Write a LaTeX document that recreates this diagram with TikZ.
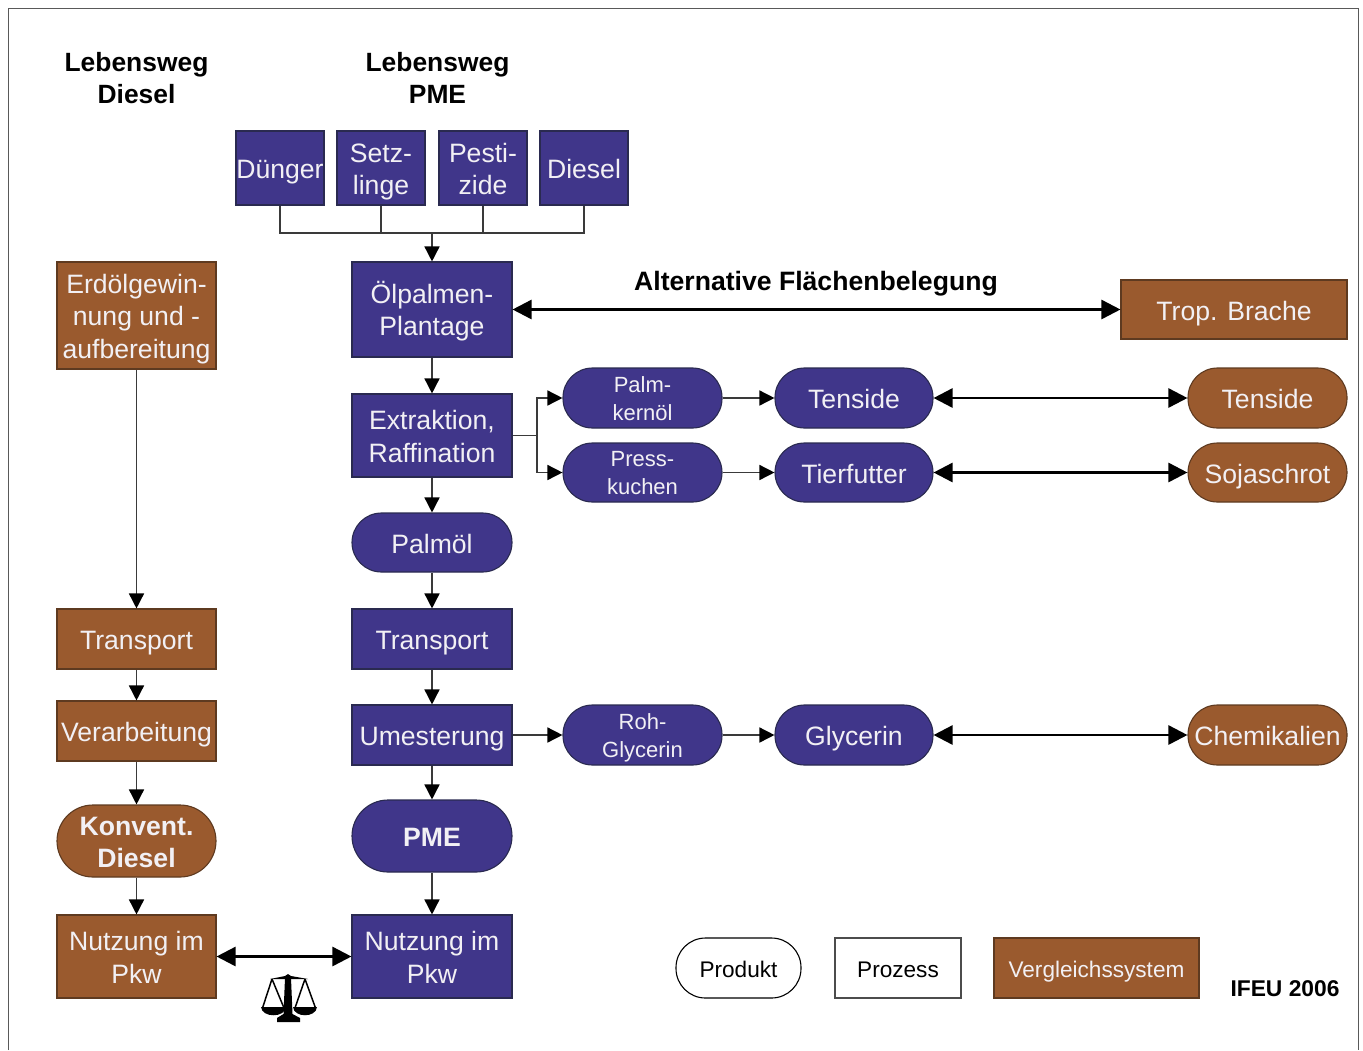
\documentclass[tikz,border=0pt]{standalone}
\usepackage{fontspec}
\setmainfont{Liberation Sans}
\usetikzlibrary{arrows.meta}
\definecolor{pblue}{HTML}{40368A}
\definecolor{pbrown}{HTML}{9A5A2E}
\definecolor{pedge}{HTML}{2A2A50}
\definecolor{bedge}{HTML}{5E3A20}
\definecolor{ptext}{HTML}{F2F0F4}
\definecolor{wire}{HTML}{3A3A3A}
\tikzset{
  x=1pt,y=-1pt,
  base/.style={inner sep=0pt,align=center,font=\fontsize{26.6}{32.5}\selectfont,text=ptext,line width=1.1pt,
    execute at begin node={\rule{0pt}{1.07em}},execute at end node={\rule[-.25em]{0pt}{.25em}}},
  multi/.style={execute at begin node={\rule{0pt}{60pt}}},
  multithree/.style={execute at begin node={\rule{0pt}{92.5pt}}},
  oilshift/.style={execute at begin node={\rule{0pt}{59pt}}},
  smalltext/.style={font=\fontsize{22}{28}\selectfont,execute at begin node={\rule{0pt}{50pt}}},
  proc/.style={base,rectangle,fill=pblue,draw=pedge},
  cmp/.style={base,rectangle,fill=pbrown,draw=bedge},
  prod/.style={base,rectangle,rounded corners=29.5pt,fill=pblue,draw=pedge},
  prodc/.style={base,rectangle,rounded corners=29.5pt,fill=pbrown,draw=bedge},
  arr/.style={line width=1.5pt,draw=wire,-{Triangle[length=15pt,width=15pt,color=black]}},
  wireline/.style={line width=1.5pt,draw=wire},
  dbl/.style={line width=2.6pt,draw=black,{Triangle[length=19pt,width=19pt]}-{Triangle[length=19pt,width=19pt]}},
  head/.style={inner sep=0pt,align=center,font=\fontsize{26.4}{32.5}\selectfont\bfseries,text=black},
}
\newcommand{\bx}[7]{\node[#1,minimum width=#4pt-#3pt,minimum height=#6pt-#5pt] (#2) at ({(#3+#4)/2},{(#5+#6)/2}) {#7};}
\begin{document}
\begin{tikzpicture}
\useasboundingbox (0,0) rectangle (1363,1050);
\draw[line width=1pt,draw=black!65] (8,1050) -- (8,8) -- (1358,8) -- (1358,1050);

\node[head] (hd) at (136.5,78) {Lebensweg\\Diesel};
\node[head] (hp) at (437.5,78) {Lebensweg\\PME};
\node[head,font=\fontsize{26.6}{32}\selectfont\bfseries] (alt) at (816,284) {Alternative Flächenbelegung};

\bx{proc}{dueng}{236}{324}{131}{205}{Dünger}
\bx{proc,multi}{setz}{337}{425}{131}{205}{Setz-\\linge}
\bx{proc,multi}{pest}{439}{527}{131}{205}{Pesti-\\zide}
\bx{proc}{dies}{540}{628}{131}{205}{Diesel}
\bx{proc,oilshift}{oel}{352}{512}{262}{357}{Ölpalmen-\\Plantage}
\bx{proc,multi}{extr}{352}{512}{394}{477}{Extraktion,\\Raffination}
\bx{prod}{palm}{352}{512}{513}{572}{Palmöl}
\bx{proc}{trp}{352}{512}{609}{669}{Transport}
\bx{proc}{ume}{352}{512}{705}{765}{Umesterung}
\node[prod,rounded corners=36pt,font=\fontsize{26.6}{32.5}\selectfont\bfseries,minimum width=160pt,minimum height=72pt] (pme) at (432,836) {PME};
\bx{proc,multi}{nutz}{352}{512}{915}{998}{Nutzung im\\Pkw}

\bx{cmp,multithree}{erd}{57}{216}{262}{369}{Erdölgewin-\\nung und -\\aufbereitung}
\bx{cmp}{ltrp}{57}{216}{609}{669}{Transport}
\bx{cmp}{verb}{57}{216}{701}{761}{Verarbeitung}
\node[prodc,multi,rounded corners=36pt,font=\fontsize{26.6}{32.5}\selectfont\bfseries,minimum width=159pt,minimum height=72pt] (konv) at (136.5,841) {Konvent.\\Diesel};
\bx{cmp,multi}{lnutz}{57}{216}{915}{998}{Nutzung im\\Pkw}

\bx{cmp}{brache}{1121}{1347}{280}{339}{Trop. Brache}
\bx{prod,smalltext}{kern}{563}{722}{368}{428}{Palm-\\kernöl}
\bx{prod,smalltext}{press}{563}{722}{443}{502}{Press-\\kuchen}
\bx{prod}{tens}{775}{933}{368}{428}{Tenside}
\bx{prod}{tier}{775}{933}{443}{502}{Tierfutter}
\bx{prodc}{rtens}{1188}{1347}{368}{428}{Tenside}
\bx{prodc}{soja}{1188}{1347}{443}{502}{Sojaschrot}
\bx{prod,smalltext}{roh}{563}{722}{705}{765}{Roh-\\Glycerin}
\bx{prod}{gly}{775}{933}{705}{765}{Glycerin}
\bx{prodc}{chem}{1188}{1347}{705}{765}{Chemikalien}

% legend
\node[base,font=\fontsize{22.6}{28}\selectfont,text=black,rectangle,rounded corners=29.5pt,fill=white,draw=black,minimum width=125pt,minimum height=60pt] (lgprod) at (738.5,968) {Produkt};
\node[base,font=\fontsize{22.6}{28}\selectfont,text=black,rectangle,fill=white,draw=black!70,minimum width=126pt,minimum height=60pt] (lgproc) at (898,968) {Prozess};
\node[cmp,font=\fontsize{22.6}{28}\selectfont,minimum width=205pt,minimum height=60pt] (lgcmp) at (1096.5,968) {Vergleichssystem};
\node[head,font=\fontsize{22.8}{28}\selectfont\bfseries] (ifeu) at (1285,989) {IFEU 2006};

% collectors
\coordinate (bus) at (432,233);
\coordinate (b1) at (dueng.south |- bus);
\coordinate (b4) at (dies.south |- bus);
\draw[wireline] (dueng.south) -- (b1) -- (b4) -- (dies.south);
\draw[wireline] (setz.south) -- (setz.south |- bus);
\draw[wireline] (pest.south) -- (pest.south |- bus);
\draw[arr] (bus) -- (oel.north);

\draw[arr] (oel.south) -- (extr.north);
\draw[arr] (extr.south) -- (palm.north);
\draw[arr] (palm.south) -- (trp.north);
\draw[arr] (trp.south) -- (ume.north);
\draw[arr] (ume.south) -- (pme.north);
\draw[arr] (pme.south) -- (nutz.north);

\draw[arr] (erd.south) -- (ltrp.north);
\draw[arr] (ltrp.south) -- (verb.north);
\draw[arr] (verb.south) -- (konv.north);
\draw[arr] (konv.south) -- (lnutz.north);

\coordinate (fork) at (537,435.5);
\draw[wireline] (extr.east) -- (fork);
\draw[arr] (fork) |- (kern.west);
\draw[arr] (fork) |- (press.west);
\draw[arr] (kern.east) -- (tens.west);
\draw[arr] (press.east) -- (tier.west);
\draw[arr] (ume.east) -- (roh.west);
\draw[arr] (roh.east) -- (gly.west);

\draw[dbl] (oel.east) -- (brache.west);
\draw[dbl] (tens.east) -- (rtens.west);
\draw[dbl] (tier.east) -- (soja.west);
\draw[dbl] (gly.east) -- (chem.west);
\draw[dbl] (lnutz.east) -- (nutz.west);

% balance scale
\fill[black] (270,979) -- (285,976) -- (288,974) -- (291,976) -- (308,979) -- (291,979) -- (285,979) -- cycle;
\fill[black] (285,978) -- (291,978) -- (292.5,1014) -- (300,1018) -- (300,1022) -- (277,1022) -- (277,1018) -- (283.5,1014) -- cycle;
\draw[line width=1.5pt] (272,979) -- (262.5,1008) (272,979) -- (284,1008);
\draw[line width=1.5pt] (305,979) -- (295,1008) (305,979) -- (315.5,1008);
\fill[black] (261,1007) -- (286,1007) .. controls (285,1018) and (262,1018) .. (261,1007) -- cycle;
\fill[black] (293,1007) -- (317,1007) .. controls (316,1018) and (294,1018) .. (293,1007) -- cycle;
\end{tikzpicture}
\end{document}
